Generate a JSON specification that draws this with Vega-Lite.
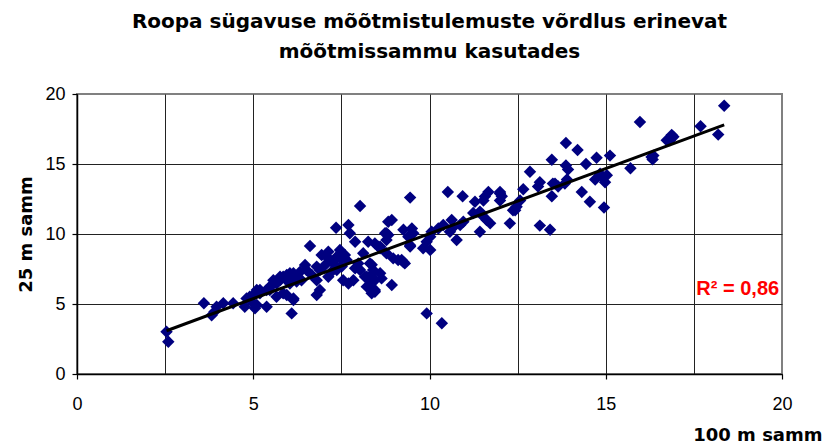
{
  "$schema": "https://vega.github.io/schema/vega-lite/v6.json",
  "width": 705,
  "height": 280,
  "autosize": "none",
  "padding": {"left": 77, "top": 94, "right": 48, "bottom": 71},
  "background": "white",
  "config": {
    "font": "Liberation Sans",
    "view": {"stroke": "#808080", "strokeWidth": 2}
  },
  "title": {
    "text": ["Roopa sügavuse mõõtmistulemuste võrdlus erinevat", "mõõtmissammu kasutades"],
    "font": "DejaVu Sans",
    "fontSize": 20,
    "fontWeight": "bold",
    "lineHeight": 30,
    "anchor": "middle",
    "frame": "group",
    "offset": 23,
    "color": "black"
  },
  "data": {"values": [
    {"x":2.54,"y":3.02},{"x":2.59,"y":2.31},{"x":3.6,"y":5.05},{"x":3.82,"y":4.2},{"x":3.9,"y":4.45},
    {"x":3.96,"y":4.8},{"x":4.15,"y":5.05},{"x":4.43,"y":5.05},{"x":4.76,"y":4.8},{"x":4.81,"y":5.4},
    {"x":4.9,"y":5.52},{"x":5.0,"y":5.64},{"x":5.0,"y":5.05},{"x":5.05,"y":4.69},{"x":5.1,"y":4.93},
    {"x":5.1,"y":6.0},{"x":5.19,"y":5.76},{"x":5.19,"y":6.0},{"x":5.38,"y":6.0},{"x":5.38,"y":4.8},
    {"x":5.47,"y":6.24},{"x":5.47,"y":6.0},{"x":5.57,"y":6.7},{"x":5.57,"y":6.47},{"x":5.66,"y":6.47},
    {"x":5.66,"y":5.52},{"x":5.76,"y":6.7},{"x":5.76,"y":6.95},{"x":5.85,"y":6.95},{"x":5.85,"y":5.76},
    {"x":5.95,"y":6.7},{"x":5.95,"y":7.07},{"x":5.95,"y":5.64},{"x":6.04,"y":7.2},{"x":6.04,"y":6.47},
    {"x":6.09,"y":4.33},{"x":6.14,"y":7.2},{"x":6.14,"y":5.4},{"x":6.14,"y":5.29},{"x":6.18,"y":6.95},
    {"x":6.23,"y":6.6},{"x":6.33,"y":7.3},{"x":6.37,"y":6.7},{"x":6.47,"y":7.79},{"x":6.51,"y":7.43},
    {"x":6.61,"y":9.14},{"x":6.66,"y":7.07},{"x":6.8,"y":7.67},{"x":6.8,"y":6.7},{"x":6.8,"y":5.64},
    {"x":6.89,"y":7.43},{"x":6.89,"y":6.0},{"x":6.94,"y":8.5},{"x":7.04,"y":7.79},{"x":7.08,"y":8.38},
    {"x":7.13,"y":8.74},{"x":7.13,"y":6.95},{"x":7.18,"y":8.14},{"x":7.22,"y":7.3},{"x":7.27,"y":7.9},
    {"x":7.35,"y":10.45},{"x":7.37,"y":8.38},{"x":7.37,"y":7.43},{"x":7.46,"y":8.86},{"x":7.46,"y":8.26},
    {"x":7.51,"y":7.67},{"x":7.55,"y":6.7},{"x":7.6,"y":8.5},{"x":7.65,"y":8.14},{"x":7.7,"y":10.64},
    {"x":7.7,"y":6.47},{"x":7.74,"y":10.05},{"x":7.84,"y":6.7},{"x":7.89,"y":9.45},{"x":7.89,"y":7.55},
    {"x":7.98,"y":7.9},{"x":8.03,"y":12.0},{"x":8.03,"y":7.43},{"x":8.12,"y":8.62},{"x":8.17,"y":6.95},
    {"x":8.22,"y":6.24},{"x":8.22,"y":6.95},{"x":8.26,"y":9.45},{"x":8.31,"y":7.9},{"x":8.31,"y":6.7},
    {"x":8.31,"y":6.24},{"x":8.36,"y":7.8},{"x":8.36,"y":5.76},{"x":8.4,"y":7.2},{"x":8.4,"y":7.43},
    {"x":8.45,"y":9.33},{"x":8.45,"y":6.0},{"x":8.45,"y":6.7},{"x":8.45,"y":5.88},{"x":8.55,"y":9.1},
    {"x":8.6,"y":8.98},{"x":8.6,"y":9.1},{"x":8.6,"y":7.2},{"x":8.64,"y":6.83},{"x":8.74,"y":10.05},
    {"x":8.78,"y":10.05},{"x":8.78,"y":8.62},{"x":8.78,"y":9.57},{"x":8.83,"y":10.88},{"x":8.83,"y":9.93},
    {"x":8.93,"y":11.0},{"x":8.93,"y":6.36},{"x":8.97,"y":8.26},{"x":9.11,"y":8.14},{"x":9.21,"y":8.14},
    {"x":9.26,"y":10.3},{"x":9.26,"y":8.0},{"x":9.3,"y":7.9},{"x":9.4,"y":9.8},{"x":9.45,"y":12.6},
    {"x":9.45,"y":9.2},{"x":9.45,"y":9.1},{"x":9.5,"y":10.4},{"x":9.54,"y":10.05},{"x":9.82,"y":8.98},
    {"x":9.92,"y":9.45},{"x":9.92,"y":4.33},{"x":10.02,"y":9.8},{"x":10.02,"y":8.86},{"x":10.06,"y":10.16},
    {"x":10.25,"y":10.4},{"x":10.35,"y":3.62},{"x":10.39,"y":10.64},{"x":10.52,"y":13.0},{"x":10.58,"y":10.16},
    {"x":10.63,"y":11.0},{"x":10.68,"y":10.5},{"x":10.77,"y":9.57},{"x":10.87,"y":10.64},{"x":10.94,"y":12.7},
    {"x":10.96,"y":10.88},{"x":11.24,"y":11.5},{"x":11.29,"y":12.3},{"x":11.43,"y":11.6},{"x":11.43,"y":10.16},
    {"x":11.53,"y":12.4},{"x":11.53,"y":11.24},{"x":11.57,"y":12.67},{"x":11.62,"y":11.0},{"x":11.67,"y":13.0},
    {"x":11.72,"y":10.76},{"x":12.0,"y":12.9},{"x":12.0,"y":12.4},{"x":12.0,"y":13.0},{"x":12.05,"y":12.7},
    {"x":12.28,"y":10.76},{"x":12.37,"y":11.7},{"x":12.43,"y":11.7},{"x":12.47,"y":11.95},{"x":12.57,"y":12.4},
    {"x":12.66,"y":13.2},{"x":12.85,"y":14.45},{"x":13.08,"y":13.4},{"x":13.13,"y":13.7},{"x":13.13,"y":10.6},
    {"x":13.42,"y":10.3},{"x":13.47,"y":15.3},{"x":13.47,"y":12.7},{"x":13.5,"y":13.6},{"x":13.56,"y":13.6},
    {"x":13.65,"y":13.4},{"x":13.84,"y":13.6},{"x":13.87,"y":16.5},{"x":13.87,"y":14.9},{"x":13.9,"y":13.9},
    {"x":13.93,"y":14.6},{"x":14.2,"y":16.0},{"x":14.32,"y":13.0},{"x":14.44,"y":15.0},{"x":14.55,"y":12.3},
    {"x":14.7,"y":13.9},{"x":14.74,"y":15.45},{"x":14.84,"y":14.3},{"x":14.92,"y":14.0},{"x":14.95,"y":11.9},
    {"x":14.98,"y":13.7},{"x":15.03,"y":14.2},{"x":15.12,"y":15.6},{"x":15.7,"y":14.7},{"x":15.97,"y":18.0},
    {"x":16.3,"y":15.5},{"x":16.33,"y":15.33},{"x":16.35,"y":15.6},{"x":16.73,"y":16.7},{"x":16.82,"y":16.7},
    {"x":16.87,"y":17.07},{"x":16.92,"y":16.95},{"x":17.69,"y":17.7},{"x":18.19,"y":17.1},{"x":18.36,"y":19.16}
  ]},
  "layer": [
    {
      "mark": {"type": "point", "shape": "diamond", "filled": true, "size": 155, "color": "#000080", "opacity": 1, "strokeWidth": 0},
      "encoding": {
        "x": {
          "field": "x", "type": "quantitative",
          "scale": {"domain": [0, 20], "nice": false, "zero": false},
          "axis": {
            "values": [0, 2.5, 5, 7.5, 10, 12.5, 15, 17.5, 20],
            "labelExpr": "datum.value % 5 === 0 ? datum.value : ''",
            "tickOpacity": {"condition": {"test": "datum.value % 5 === 0", "value": 1}, "value": 0},
            "gridOpacity": {"condition": {"test": "datum.value === 20", "value": 0}, "value": 1},
            "grid": true, "gridColor": "#222222", "gridWidth": 1,
            "domainColor": "black", "domainWidth": 1.5,
            "tickColor": "black", "tickSize": 5, "tickWidth": 1.2,
            "labelFontSize": 18, "labelColor": "black", "labelPadding": 16, "labelFlush": false,
            "title": "100 m samm", "titleFont": "DejaVu Sans", "titleFontSize": 18, "titleFontWeight": "bold", "titleColor": "black",
            "titleX": 745, "titleY": 66, "titleAlign": "right", "titleBaseline": "alphabetic"
          }
        },
        "y": {
          "field": "y", "type": "quantitative",
          "scale": {"domain": [0, 20], "nice": false, "zero": false},
          "axis": {
            "values": [0, 2.5, 5, 7.5, 10, 12.5, 15, 17.5, 20],
            "labelExpr": "datum.value % 5 === 0 ? datum.value : ''",
            "tickOpacity": {"condition": {"test": "datum.value % 5 === 0", "value": 1}, "value": 0},
            "gridOpacity": {"condition": {"test": "datum.value === 20", "value": 0}, "value": 1},
            "grid": true, "gridColor": "#222222", "gridWidth": 1,
            "domainColor": "black", "domainWidth": 1.5,
            "tickColor": "black", "tickSize": 5, "tickWidth": 1.2,
            "labelFontSize": 18, "labelColor": "black", "labelPadding": 7, "labelFlush": false,
            "title": "25 m samm", "titleFont": "DejaVu Sans", "titleFontSize": 18, "titleFontWeight": "bold", "titleColor": "black",
            "titlePadding": 9
          }
        }
      }
    },
    {
      "transform": [{"regression": "y", "on": "x"}],
      "mark": {"type": "line", "color": "black", "strokeWidth": 3},
      "encoding": {
        "x": {"field": "x", "type": "quantitative"},
        "y": {"field": "y", "type": "quantitative"}
      }
    },
    {
      "data": {"values": [{"x": 19.92, "y": 6.1, "label": "R² = 0,86"}]},
      "mark": {"type": "text", "align": "right", "baseline": "middle", "color": "#FF0000", "fontSize": 20, "fontWeight": "bold"},
      "encoding": {
        "x": {"field": "x", "type": "quantitative"},
        "y": {"field": "y", "type": "quantitative"},
        "text": {"field": "label"}
      }
    }
  ]
}
